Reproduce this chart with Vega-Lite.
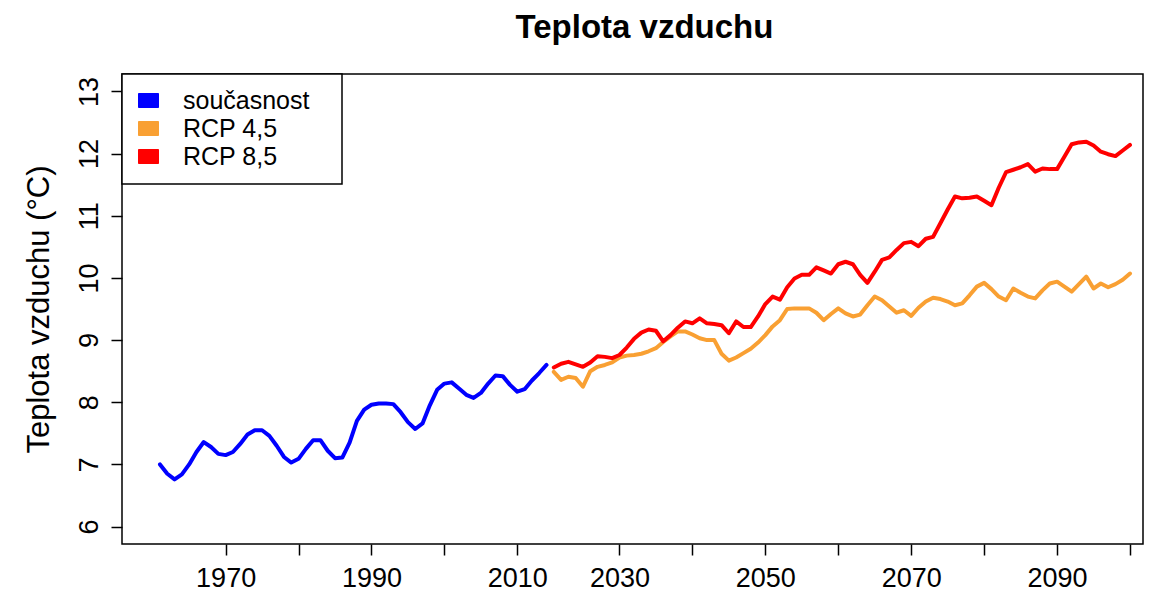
{
  "$schema": "https://vega.github.io/schema/vega-lite/v6.json",
  "width": 1021,
  "height": 470,
  "autosize": {"type": "none"},
  "padding": {"left": 122, "top": 74, "right": 14, "bottom": 49},
  "background": "white",
  "title": {"text": "Teplota vzduchu", "fontSize": 33, "fontWeight": "bold", "font": "Liberation Sans", "color": "black", "anchor": "middle", "dx": 12, "offset": 2, "baseline": "alphabetic"},
  "config": {
    "font": "Liberation Sans",
    "view": {"stroke": "black", "strokeWidth": 1.5}
  },
  "datasets": {
    "hist": [
      {"year":1961,"t":7.00},{"year":1962,"t":6.85},{"year":1963,"t":6.76},{"year":1964,"t":6.84},{"year":1965,"t":7.00},
      {"year":1966,"t":7.20},{"year":1967,"t":7.36},{"year":1968,"t":7.28},{"year":1969,"t":7.17},{"year":1970,"t":7.15},
      {"year":1971,"t":7.20},{"year":1972,"t":7.33},{"year":1973,"t":7.48},{"year":1974,"t":7.55},{"year":1975,"t":7.55},
      {"year":1976,"t":7.46},{"year":1977,"t":7.30},{"year":1978,"t":7.12},{"year":1979,"t":7.03},{"year":1980,"t":7.09},
      {"year":1981,"t":7.25},{"year":1982,"t":7.39},{"year":1983,"t":7.39},{"year":1984,"t":7.22},{"year":1985,"t":7.10},
      {"year":1986,"t":7.11},{"year":1987,"t":7.35},{"year":1988,"t":7.70},{"year":1989,"t":7.88},{"year":1990,"t":7.96},
      {"year":1991,"t":7.98},{"year":1992,"t":7.98},{"year":1993,"t":7.97},{"year":1994,"t":7.84},{"year":1995,"t":7.68},
      {"year":1996,"t":7.57},{"year":1997,"t":7.66},{"year":1998,"t":7.95},{"year":1999,"t":8.20},{"year":2000,"t":8.30},
      {"year":2001,"t":8.32},{"year":2002,"t":8.22},{"year":2003,"t":8.12},{"year":2004,"t":8.07},{"year":2005,"t":8.15},
      {"year":2006,"t":8.30},{"year":2007,"t":8.43},{"year":2008,"t":8.42},{"year":2009,"t":8.28},{"year":2010,"t":8.17},
      {"year":2011,"t":8.21},{"year":2012,"t":8.35},{"year":2013,"t":8.47},{"year":2014,"t":8.60}
    ],
    "rcp45": [
      {"year":2021,"t":8.49},{"year":2022,"t":8.36},{"year":2023,"t":8.41},{"year":2024,"t":8.39},{"year":2025,"t":8.25},
      {"year":2026,"t":8.50},{"year":2027,"t":8.57},{"year":2028,"t":8.60},{"year":2029,"t":8.64},{"year":2030,"t":8.72},
      {"year":2031,"t":8.75},{"year":2032,"t":8.76},{"year":2033,"t":8.78},{"year":2034,"t":8.82},{"year":2035,"t":8.87},
      {"year":2036,"t":8.97},{"year":2037,"t":9.06},{"year":2038,"t":9.14},{"year":2039,"t":9.14},{"year":2040,"t":9.09},
      {"year":2041,"t":9.03},{"year":2042,"t":9.00},{"year":2043,"t":9.00},{"year":2044,"t":8.78},{"year":2045,"t":8.67},
      {"year":2046,"t":8.72},{"year":2047,"t":8.79},{"year":2048,"t":8.86},{"year":2049,"t":8.96},{"year":2050,"t":9.08},
      {"year":2051,"t":9.22},{"year":2052,"t":9.32},{"year":2053,"t":9.50},{"year":2054,"t":9.51},{"year":2055,"t":9.51},
      {"year":2056,"t":9.51},{"year":2057,"t":9.44},{"year":2058,"t":9.32},{"year":2059,"t":9.42},{"year":2060,"t":9.51},
      {"year":2061,"t":9.43},{"year":2062,"t":9.38},{"year":2063,"t":9.41},{"year":2064,"t":9.56},{"year":2065,"t":9.70},
      {"year":2066,"t":9.64},{"year":2067,"t":9.54},{"year":2068,"t":9.44},{"year":2069,"t":9.48},{"year":2070,"t":9.39},
      {"year":2071,"t":9.52},{"year":2072,"t":9.62},{"year":2073,"t":9.68},{"year":2074,"t":9.66},{"year":2075,"t":9.62},
      {"year":2076,"t":9.56},{"year":2077,"t":9.59},{"year":2078,"t":9.72},{"year":2079,"t":9.86},{"year":2080,"t":9.92},
      {"year":2081,"t":9.82},{"year":2082,"t":9.70},{"year":2083,"t":9.64},{"year":2084,"t":9.83},{"year":2085,"t":9.76},
      {"year":2086,"t":9.70},{"year":2087,"t":9.67},{"year":2088,"t":9.80},{"year":2089,"t":9.91},{"year":2090,"t":9.94},
      {"year":2091,"t":9.86},{"year":2092,"t":9.78},{"year":2093,"t":9.90},{"year":2094,"t":10.02},{"year":2095,"t":9.83},
      {"year":2096,"t":9.91},{"year":2097,"t":9.85},{"year":2098,"t":9.90},{"year":2099,"t":9.97},{"year":2100,"t":10.07}
    ],
    "rcp85": [
      {"year":2021,"t":8.56},{"year":2022,"t":8.62},{"year":2023,"t":8.65},{"year":2024,"t":8.61},{"year":2025,"t":8.57},
      {"year":2026,"t":8.64},{"year":2027,"t":8.74},{"year":2028,"t":8.73},{"year":2029,"t":8.71},{"year":2030,"t":8.76},
      {"year":2031,"t":8.88},{"year":2032,"t":9.02},{"year":2033,"t":9.12},{"year":2034,"t":9.17},{"year":2035,"t":9.15},
      {"year":2036,"t":8.98},{"year":2037,"t":9.08},{"year":2038,"t":9.20},{"year":2039,"t":9.30},{"year":2040,"t":9.27},
      {"year":2041,"t":9.35},{"year":2042,"t":9.27},{"year":2043,"t":9.26},{"year":2044,"t":9.24},{"year":2045,"t":9.11},
      {"year":2046,"t":9.30},{"year":2047,"t":9.21},{"year":2048,"t":9.21},{"year":2049,"t":9.38},{"year":2050,"t":9.58},
      {"year":2051,"t":9.70},{"year":2052,"t":9.65},{"year":2053,"t":9.85},{"year":2054,"t":9.99},{"year":2055,"t":10.05},
      {"year":2056,"t":10.05},{"year":2057,"t":10.17},{"year":2058,"t":10.12},{"year":2059,"t":10.07},{"year":2060,"t":10.22},
      {"year":2061,"t":10.26},{"year":2062,"t":10.22},{"year":2063,"t":10.05},{"year":2064,"t":9.92},{"year":2065,"t":10.10},
      {"year":2066,"t":10.29},{"year":2067,"t":10.33},{"year":2068,"t":10.45},{"year":2069,"t":10.56},{"year":2070,"t":10.58},
      {"year":2071,"t":10.51},{"year":2072,"t":10.63},{"year":2073,"t":10.66},{"year":2074,"t":10.88},{"year":2075,"t":11.10},
      {"year":2076,"t":11.31},{"year":2077,"t":11.28},{"year":2078,"t":11.29},{"year":2079,"t":11.31},{"year":2080,"t":11.24},
      {"year":2081,"t":11.17},{"year":2082,"t":11.45},{"year":2083,"t":11.70},{"year":2084,"t":11.74},{"year":2085,"t":11.78},
      {"year":2086,"t":11.83},{"year":2087,"t":11.71},{"year":2088,"t":11.76},{"year":2089,"t":11.75},{"year":2090,"t":11.75},
      {"year":2091,"t":11.95},{"year":2092,"t":12.15},{"year":2093,"t":12.18},{"year":2094,"t":12.19},{"year":2095,"t":12.13},
      {"year":2096,"t":12.03},{"year":2097,"t":11.99},{"year":2098,"t":11.96},{"year":2099,"t":12.05},{"year":2100,"t":12.14}
    ]
  },
  "encoding": {
    "x": {
      "field": "year", "type": "quantitative",
      "scale": {"type": "linear", "domain": [1955.79, 2014, 2021, 2101.78], "range": [0, 424.5, 431.8, 1021], "zero": false, "nice": false},
      "axis": {
        "values": [1970, 1980, 1990, 2000, 2010, 2030, 2040, 2050, 2060, 2070, 2080, 2090, 2100],
        "labelExpr": "indexof([1970, 1990, 2010, 2030, 2050, 2070, 2090], datum.value) >= 0 ? '' + datum.value : ''",
        "title": null, "grid": false, "domain": false,
        "tickSize": 11, "tickWidth": 1.5, "tickColor": "black",
        "labelFontSize": 27, "labelColor": "black", "labelPadding": 10,
        "labelOverlap": false, "labelFlush": false
      }
    },
    "y": {
      "field": "t", "type": "quantitative",
      "scale": {"domain": [5.72, 13.28], "zero": false, "nice": false},
      "axis": {
        "values": [6, 7, 8, 9, 10, 11, 12, 13],
        "title": "Teplota vzduchu (°C)", "grid": false, "domain": false,
        "tickSize": 11, "tickWidth": 1.5, "tickColor": "black",
        "labelAngle": -90, "labelAlign": "center", "labelBaseline": "bottom",
        "labelFontSize": 27, "labelColor": "black", "labelPadding": 8,
        "titleFontSize": 31, "titleFontWeight": "normal", "titleColor": "black", "titlePadding": 20
      }
    },
    "color": {
      "field": "scenario", "type": "nominal",
      "scale": {"domain": ["současnost", "RCP 4,5", "RCP 8,5"], "range": ["#0000FF", "#F9A033", "#FF0000"]},
      "legend": {
        "orient": "top-left", "offset": 0, "title": null,
        "symbolType": "M-1,-0.7H1V0.7H-1Z", "symbolSize": 400,
        "labelFontSize": 25, "labelColor": "black", "labelOffset": 22, "labelLimit": 300,
        "padding": 14, "rowPadding": 2,
        "strokeColor": "black", "fillColor": "white",
        "labelExpr": "datum.label + '\u2800'",
        "encode": {
          "symbols": {"update": {"fill": {"scale": "color", "field": "value"}, "fillOpacity": {"value": 1}, "stroke": {"value": "black"}, "strokeWidth": {"value": 1}}},
          "legend": {"update": {"strokeWidth": {"value": 1.5}}}
        }
      }
    }
  },
  "layer": [
    {"data": {"name": "hist"}, "transform": [{"calculate": "'současnost'", "as": "scenario"}], "mark": {"type": "line", "strokeWidth": 4, "strokeCap": "round", "strokeJoin": "round"}},
    {"data": {"name": "rcp45"}, "transform": [{"calculate": "'RCP 4,5'", "as": "scenario"}], "mark": {"type": "line", "strokeWidth": 4, "strokeCap": "round", "strokeJoin": "round"}},
    {"data": {"name": "rcp85"}, "transform": [{"calculate": "'RCP 8,5'", "as": "scenario"}], "mark": {"type": "line", "strokeWidth": 4, "strokeCap": "round", "strokeJoin": "round"}}
  ]
}
